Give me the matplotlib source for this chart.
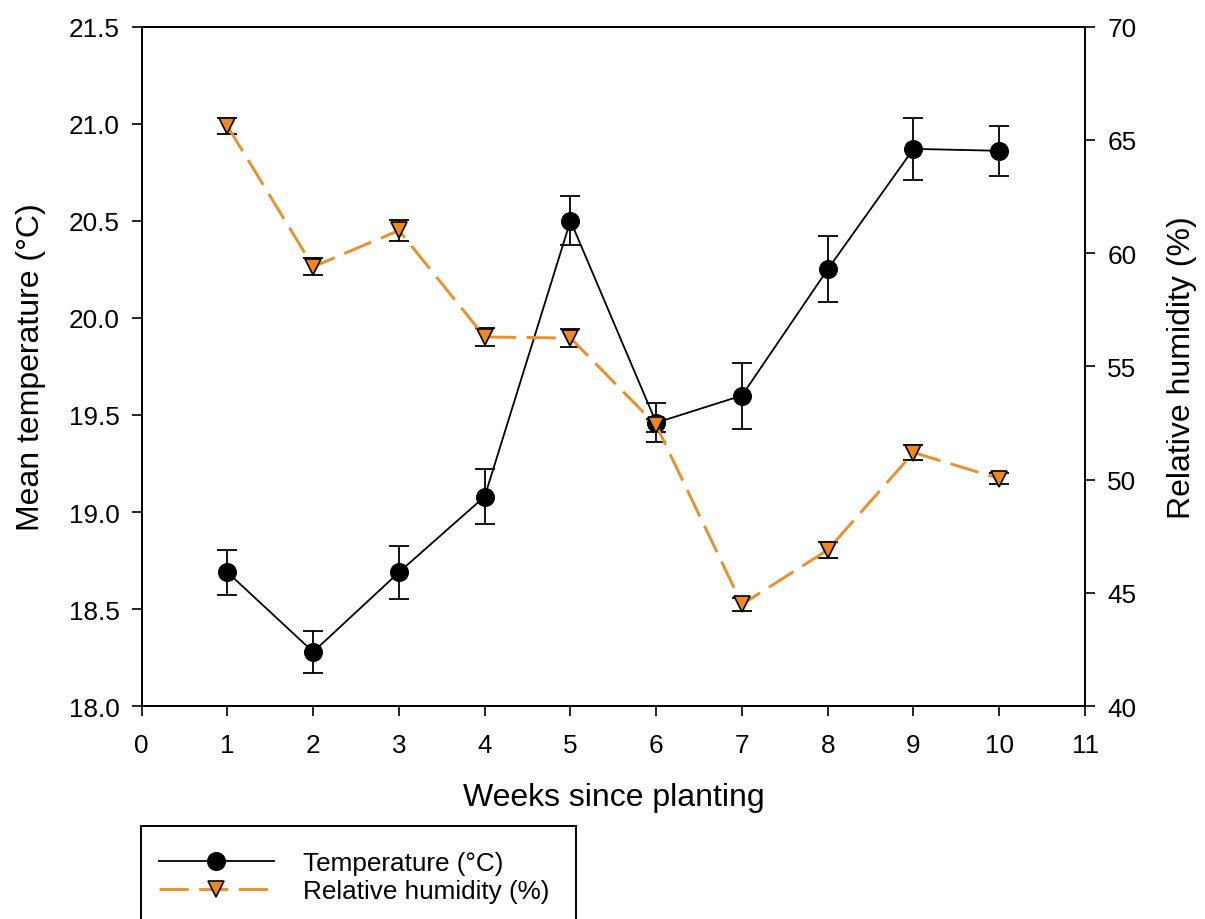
import matplotlib
matplotlib.use("Agg")
import matplotlib.pyplot as plt
from matplotlib.patches import Rectangle

plt.rcParams['font.family'] = ['Liberation Sans', 'DejaVu Sans']

# weekly means and error bars
weeks = [1, 2, 3, 4, 5, 6, 7, 8, 9, 10]
temp = [18.69, 18.28, 18.69, 19.08, 20.50, 19.46, 19.60, 20.25, 20.87, 20.86]
temp_err = [0.115, 0.11, 0.135, 0.14, 0.125, 0.10, 0.17, 0.17, 0.16, 0.13]
rh = [65.6, 59.4, 61.0, 56.3, 56.25, 52.4, 44.5, 46.9, 51.2, 50.05]
rh_err = [0.35, 0.37, 0.48, 0.38, 0.38, 0.30, 0.28, 0.35, 0.32, 0.26]

orange = '#E8912C'
W, H = 1205, 920

fig = plt.figure(figsize=(W / 100, H / 100), dpi=100)
ax = fig.add_axes([141.7 / W, 1 - 707.3 / H, (1085 - 141.7) / W, (707.3 - 27.5) / H])
ax2 = ax.twinx()

# temperature: error bars, then the line with markers
ax.errorbar(weeks, temp, yerr=temp_err, fmt='none', ecolor='black', elinewidth=1.3,
            capsize=7.2, capthick=1.3)
h1, = ax.plot(weeks, temp, color='black', lw=1.3, marker='o', ms=12.7,
              mfc='black', mec='black', label='Temperature (\u00b0C)')

# humidity on the right axis
ax2.errorbar(weeks, rh, yerr=rh_err, fmt='none', ecolor='black', elinewidth=1.3,
             capsize=7.2, capthick=1.3, zorder=2)
h2, = ax2.plot(weeks, rh, color=orange, lw=2.1, dashes=(10, 3.6), marker='v',
               ms=12.2, mfc='#F0871F', mec='black', mew=1.2, zorder=3,
               label='Relative humidity (%)')

ax.set_xlim(0, 11)
ax.set_ylim(18.0, 21.5)
ax2.set_ylim(40, 70)
ax.set_xticks(range(0, 12))
ax.set_yticks([18.0, 18.5, 19.0, 19.5, 20.0, 20.5, 21.0, 21.5])
ax.set_yticklabels(['%.1f' % v for v in ax.get_yticks()])
ax2.set_yticks(range(40, 75, 5))

for a in (ax, ax2):
    for s in a.spines.values():
        s.set_linewidth(1.4)
ax.tick_params(axis='both', direction='out', length=7, width=1.2, labelsize=18.8)
ax.tick_params(axis='x', pad=12)
ax.tick_params(axis='y', pad=9)
ax2.tick_params(axis='y', direction='out', length=7, width=1.2, labelsize=18.8, pad=9)

ax.set_xlabel('Weeks since planting', fontsize=23, labelpad=18)
ax.set_ylabel('Mean temperature (\u00b0C)', fontsize=23, labelpad=16)
ax2.set_ylabel('Relative humidity (%)', fontsize=23, labelpad=22)

# legend box runs off the bottom of the figure
fig.patches.append(Rectangle((141 / W, -0.05), 435 / W, 1 - 827 / H + 0.05,
                             transform=fig.transFigure, fill=False,
                             edgecolor='black', lw=1.4))
fig.legend([h1, h2], [h1.get_label(), h2.get_label()],
           loc='upper left', bbox_to_anchor=(159 / W, 1 - 852 / H),
           fontsize=18.8, frameon=False, borderaxespad=0, borderpad=0,
           handlelength=4.4, handletextpad=1.1, labelspacing=0.16)

fig.savefig('out.png', dpi=100)
